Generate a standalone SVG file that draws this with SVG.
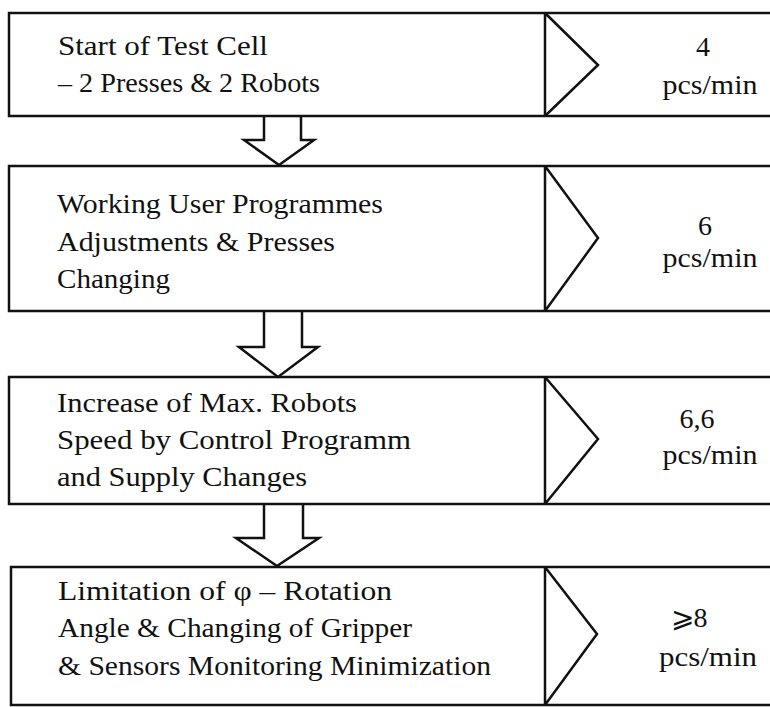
<svg xmlns="http://www.w3.org/2000/svg" width="770" height="707" viewBox="0 0 770 707">
<style>
.box{fill:none;stroke:#111;stroke-width:2.5}
.chev{fill:none;stroke:#111;stroke-width:2.5;stroke-linejoin:miter}
.arr{fill:#fff;stroke:#111;stroke-width:2.5;stroke-linejoin:miter}
.t{font-family:"Liberation Serif","Times New Roman",serif;font-size:28px;fill:#111}
.r{font-family:"Liberation Serif","Times New Roman",serif;font-size:28px;fill:#111;text-anchor:middle}
</style>
<rect width="770" height="707" fill="#fff"/>
<g id="connectors">
<path class="arr" d="M264,116 V140 H244 L279,165 L314,140 H301 V116"/>
<path class="arr" d="M264,311 V347 H239 L278,377 L318,347 H302 V311"/>
<path class="arr" d="M264,504 V538 H236 L277,566 L319,538 H303 V504"/>
</g>
<g id="node1">
<path class="box" d="M775,13 H9 V116 H775"/>
<path class="chev" d="M545,13 V116 M545,13 L598,65 L545,116"/>
<text class="t" x="58" y="55" textLength="210" lengthAdjust="spacingAndGlyphs">Start of Test Cell</text>
<text class="t" x="58" y="92" textLength="262" lengthAdjust="spacingAndGlyphs">– 2 Presses &amp; 2 Robots</text>
<text class="r" x="703" y="56">4</text>
<text class="r" x="710" y="94" textLength="95" lengthAdjust="spacingAndGlyphs">pcs/min</text>
</g>
<g id="node2">
<path class="box" d="M775,166 H9 V311 H775"/>
<path class="chev" d="M545,166 V311 M545,166 L598,238 L545,311"/>
<text class="t" x="57" y="213" textLength="326" lengthAdjust="spacingAndGlyphs">Working User Programmes</text>
<text class="t" x="57" y="251" textLength="278" lengthAdjust="spacingAndGlyphs">Adjustments &amp; Presses</text>
<text class="t" x="57" y="288" textLength="113" lengthAdjust="spacingAndGlyphs">Changing</text>
<text class="r" x="705" y="235">6</text>
<text class="r" x="710" y="267" textLength="95" lengthAdjust="spacingAndGlyphs">pcs/min</text>
</g>
<g id="node3">
<path class="box" d="M775,377 H9 V504 H775"/>
<path class="chev" d="M545,377 V504 M545,377 L598,439 L545,504"/>
<text class="t" x="57" y="412" textLength="300" lengthAdjust="spacingAndGlyphs">Increase of Max. Robots</text>
<text class="t" x="57" y="449" textLength="354" lengthAdjust="spacingAndGlyphs">Speed by Control Programm</text>
<text class="t" x="57" y="486" textLength="250" lengthAdjust="spacingAndGlyphs">and Supply Changes</text>
<text class="r" x="697" y="428">6,6</text>
<text class="r" x="710" y="464" textLength="95" lengthAdjust="spacingAndGlyphs">pcs/min</text>
</g>
<g id="node4">
<path class="box" d="M775,567 H11 V705 H775"/>
<path class="chev" d="M545,567 V705 M545,567 L597,634 L545,705"/>
<text class="t" x="58" y="600" textLength="334" lengthAdjust="spacingAndGlyphs">Limitation of φ – Rotation</text>
<text class="t" x="58" y="637" textLength="354" lengthAdjust="spacingAndGlyphs">Angle &amp; Changing of Gripper</text>
<text class="t" x="58" y="675" textLength="433" lengthAdjust="spacingAndGlyphs">&amp; Sensors Monitoring Minimization</text>
<text class="r" x="689" y="627">⩾8</text>
<text class="r" x="708" y="666" textLength="98" lengthAdjust="spacingAndGlyphs">pcs/min</text>
</g>
</svg>
